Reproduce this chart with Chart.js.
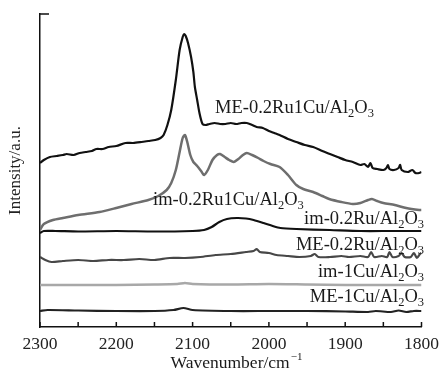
<!DOCTYPE html>
<html>
<head>
<meta charset="utf-8">
<script src="https://cdn.jsdelivr.net/npm/chart.js@4"></script>
<style>
  html, body { margin: 0; padding: 0; background: #fff; }
  #wrap { width: 446px; height: 373px; }
</style>
</head>
<body>
<div id="wrap"><canvas id="irChart" width="446" height="373"></canvas></div>
<script>
// Sample names (drawn next to each curve)
const sampleNames = ['ME-0.2Ru1Cu/Al2O3', 'im-0.2Ru1Cu/Al2O3', 'im-0.2Ru/Al2O3',
                     'ME-0.2Ru/Al2O3', 'im-1Cu/Al2O3', 'ME-1Cu/Al2O3'];
const xTicks = [2300, 2200, 2100, 2000, 1900, 1800];

// ME-0.2Ru1Cu/Al2O3
const wnA = [2300,2295,2287,2278,2270,2265,2256,2248,2240,2232,2226,2218,2210,2200,2188,2178,2167,2158,2149,2142,2138,2133,2128,2122,2117,2113,2111,2109,2106,2102,2099,2097,2094,2091,2087,2083,2078,2071,2064,2057,2050,2043,2036,2029,2022,2016,2008,2000,1993,1986,1975,1964,1953,1942,1930,1920,1910,1900,1890,1880,1875,1870,1867,1864,1858,1850,1846,1844,1842,1836,1830,1828,1826,1818,1812,1808,1803,1800];
const intA = [164,167,170,171,172,173,172,174,175,176,178,178,180,181,184,184,185,186,187,189,192,202,217,247,277,290,293,291,284,270,255,240,227,214,203,202,203,204,203,203,204,203,204,204,202,200,199,196,194,192,188,185,182,180,176,173,170,167,165,162,163,160,164,159,158,157,159,162,158,157,159,162,157,155,157,154,154,155];

// im-0.2Ru1Cu/Al2O3
const wnB = [2300,2295,2283,2270,2250,2222,2200,2180,2158,2145,2134,2128,2122,2117,2113,2110,2107,2103,2099,2094,2088,2085,2080,2074,2068,2064,2058,2052,2046,2040,2034,2029,2022,2014,2007,1998,1986,1975,1964,1955,1942,1930,1921,1905,1890,1880,1870,1865,1858,1850,1835,1820,1803,1800];
const intB = [97,103,107,109,112,115,119,123,127,131,137,144,157,175,189,192,185,172,165,161,155,152,157,167,172,173,170,167,165,168,172,174,172,169,166,163,160,152,142,138,135,131,128,125,123,124,127,128,126,124,122,119,117,117];

// im-0.2Ru/Al2O3
const wnC = [2300,2295,2280,2250,2200,2150,2100,2085,2075,2065,2055,2042,2030,2020,2007,1995,1985,1964,1920,1880,1840,1800];
const intC = [94,96,96,95.5,96,95.5,96,97,100,105,108,109,108.5,107,104,101,99,98,97,96,96,96];

// ME-0.2Ru/Al2O3
const wnD = [2300,2293,2285,2270,2250,2230,2210,2190,2170,2150,2130,2110,2090,2070,2050,2030,2020,2016,2012,2000,1990,1975,1960,1945,1940,1935,1920,1905,1895,1880,1870,1866,1862,1852,1845,1842,1838,1830,1826,1822,1814,1810,1806,1802,1800];
const intD = [70,67,65,66,67,66,67,67,68,67,69,69,70,72,73,75,76,78,75,74,72,71,70,71,73,70,70,71,70,71,70,75,70,71,70,75,70,71,74,70,70,74,69,73,74];

// im-1Cu/Al2O3
const wnE = [2300,2250,2200,2150,2120,2110,2100,2050,2000,1950,1900,1850,1800];
const intE = [42,42,42,42.5,43,44,43,42.5,43,42.5,42,42,42];

// ME-1Cu/Al2O3
const wnF = [2300,2290,2250,2200,2150,2125,2112,2100,2050,2000,1950,1900,1870,1860,1840,1830,1820,1810,1800];
const intF = [16,17,16.5,16,16,17,19,17,16,16,16,15.5,15,16,15,16.5,15,16,16];

function pts(wn, val) {
    return wn.map((w, i) => ({ x: w, y: val[i] }));
}

const SERIF = '"Liberation Serif", "Times New Roman", serif';

// write a formula like Al2O3 with subscripted digits
function drawChem(ctx, text, x, y, align) {
    const parts = text.split(/((?<=Al|O)\d)/).filter(s => s.length);
    const big = '18.5px ' + SERIF, small = '12.5px ' + SERIF;
    const isSub = i => /^\d$/.test(parts[i]) && i > 0 && /(Al|O)$/.test(parts[i - 1]);
    let total = 0;
    parts.forEach((p, i) => {
        ctx.font = isSub(i) ? small : big;
        total += ctx.measureText(p).width;
    });
    let cx = align === 'right' ? x - total : x;
    ctx.textAlign = 'left';
    ctx.textBaseline = 'alphabetic';
    parts.forEach((p, i) => {
        ctx.font = isSub(i) ? small : big;
        ctx.fillText(p, cx, isSub(i) ? y + 4 : y);
        cx += ctx.measureText(p).width;
    });
}

const annotate = {
    id: 'annotate',
    afterDraw(chart) {
        const ctx = chart.ctx;
        const xs = chart.scales.x;
        const area = chart.chartArea;
        ctx.save();
        ctx.fillStyle = '#1a1a1a';
        // sample labels: [anchor x, baseline y, align]
        const spots = [
            [215, 113, 'left'], [153, 205, 'left'], [424, 224, 'right'],
            [424, 250, 'right'], [424, 277, 'right'], [424, 302, 'right']
        ];
        sampleNames.forEach((n, i) => drawChem(ctx, n, spots[i][0], spots[i][1], spots[i][2]));

        // inward tick marks on the wavenumber axis
        ctx.strokeStyle = '#111';
        ctx.lineWidth = 1.5;
        ctx.beginPath();
        for (let w = 1800; w <= 2300; w += 50) {
            const px = xs.getPixelForValue(w);
            ctx.moveTo(px, area.bottom);
            ctx.lineTo(px, area.bottom - 5);
        }
        // short tick at the top of the intensity axis
        ctx.moveTo(area.left, area.top);
        ctx.lineTo(area.left + 9, area.top);
        ctx.stroke();

        // x axis title with superscript
        const t1 = 'Wavenumber/cm';
        ctx.font = '11px ' + SERIF;
        const supW = ctx.measureText('\u22121').width;
        ctx.font = '17.5px ' + SERIF;
        const w1 = ctx.measureText(t1).width;
        const start = 236 - (w1 + supW) / 2;
        ctx.textAlign = 'left';
        ctx.textBaseline = 'alphabetic';
        ctx.fillText(t1, start, 368);
        ctx.font = '11px ' + SERIF;
        ctx.fillText('\u22121', start + w1 + 1, 360);
        ctx.restore();
    }
};

const ctx1 = document.getElementById('irChart').getContext('2d');
const irChart = new Chart(ctx1, {
    type: 'line',
    data: {
        datasets: [
            { data: pts(wnA, intA), borderColor: '#111', borderWidth: 2.2 },
            { data: pts(wnB, intB), borderColor: '#6e6e6e', borderWidth: 2.5 },
            { data: pts(wnC, intC), borderColor: '#111', borderWidth: 2.2 },
            { data: pts(wnD, intD), borderColor: '#474747', borderWidth: 2.2 },
            { data: pts(wnE, intE), borderColor: '#a8a8a8', borderWidth: 2.5 },
            { data: pts(wnF, intF), borderColor: '#222', borderWidth: 2.2 }
        ]
    },
    options: {
        responsive: false,
        animation: false,
        layout: { padding: { top: 14, right: 19, left: 0, bottom: 0 } },
        elements: { point: { radius: 0 }, line: { tension: 0.25, fill: false } },
        plugins: { legend: { display: false }, tooltip: { enabled: false } },
        scales: {
            x: {
                type: 'linear',
                reverse: true,
                min: 1800,
                max: 2300,
                afterFit: s => { s.height = 46; },
                afterBuildTicks: s => { s.ticks = xTicks.map(v => ({ value: v })); },
                grid: { display: false, drawTicks: false },
                border: { display: true, color: '#111', width: 1.5 },
                ticks: {
                    autoSkip: false, maxRotation: 0, padding: 7, color: '#222',
                    font: { family: SERIF, size: 17.5 },
                    callback: v => String(v)
                }
            },
            y: {
                min: 0,
                max: 313,
                afterFit: s => { s.width = 40; },
                grid: { display: false, drawTicks: false },
                border: { display: true, color: '#111', width: 1.5 },
                ticks: { display: false },
                title: {
                    display: true, text: 'Intensity/a.u.', color: '#222',
                    font: { family: SERIF, size: 17 }, padding: { top: 5, bottom: 0 }
                }
            }
        }
    },
    plugins: [annotate]
});
</script>
</body>
</html>
